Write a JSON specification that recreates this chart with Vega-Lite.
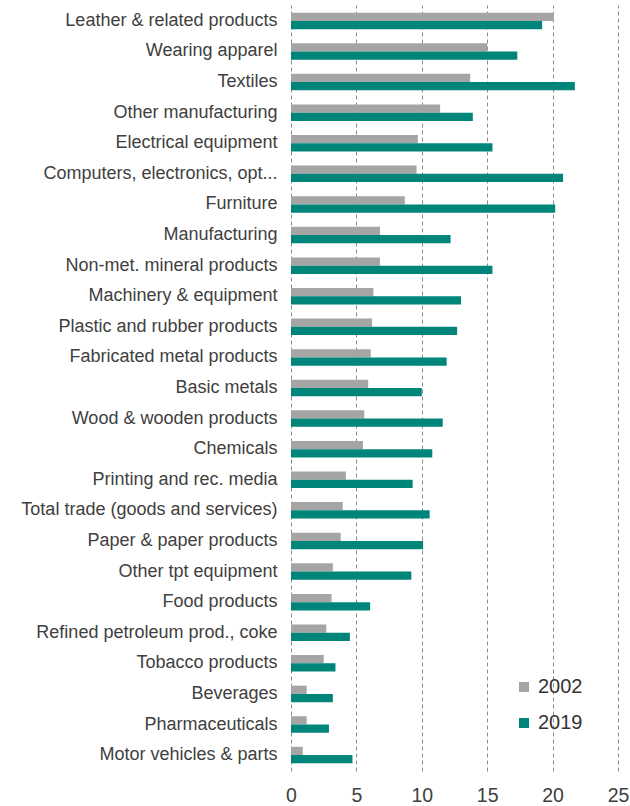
{
  "$schema": "https://vega.github.io/schema/vega-lite/v6.json",
  "autosize": "none",
  "width": 327,
  "height": 766,
  "padding": {"left": 291, "top": 5, "right": 12, "bottom": 35},
  "background": "white",
  "config": {
    "view": {"stroke": null},
    "font": "Liberation Sans",
    "axis": {"labelColor": "#404040"}
  },
  "data": {
    "values": [
      {"category": "Leather & related products", "year": "2002", "value": 20.1},
      {"category": "Leather & related products", "year": "2019", "value": 19.2},
      {"category": "Wearing apparel", "year": "2002", "value": 15.0},
      {"category": "Wearing apparel", "year": "2019", "value": 17.3},
      {"category": "Textiles", "year": "2002", "value": 13.7},
      {"category": "Textiles", "year": "2019", "value": 21.7},
      {"category": "Other manufacturing", "year": "2002", "value": 11.4},
      {"category": "Other manufacturing", "year": "2019", "value": 13.9},
      {"category": "Electrical equipment", "year": "2002", "value": 9.7},
      {"category": "Electrical equipment", "year": "2019", "value": 15.4},
      {"category": "Computers, electronics, opt...", "year": "2002", "value": 9.6},
      {"category": "Computers, electronics, opt...", "year": "2019", "value": 20.8},
      {"category": "Furniture", "year": "2002", "value": 8.7},
      {"category": "Furniture", "year": "2019", "value": 20.2},
      {"category": "Manufacturing", "year": "2002", "value": 6.8},
      {"category": "Manufacturing", "year": "2019", "value": 12.2},
      {"category": "Non-met. mineral products", "year": "2002", "value": 6.8},
      {"category": "Non-met. mineral products", "year": "2019", "value": 15.4},
      {"category": "Machinery & equipment", "year": "2002", "value": 6.3},
      {"category": "Machinery & equipment", "year": "2019", "value": 13.0},
      {"category": "Plastic and rubber products", "year": "2002", "value": 6.2},
      {"category": "Plastic and rubber products", "year": "2019", "value": 12.7},
      {"category": "Fabricated metal products", "year": "2002", "value": 6.1},
      {"category": "Fabricated metal products", "year": "2019", "value": 11.9},
      {"category": "Basic metals", "year": "2002", "value": 5.9},
      {"category": "Basic metals", "year": "2019", "value": 10.0},
      {"category": "Wood & wooden products", "year": "2002", "value": 5.6},
      {"category": "Wood & wooden products", "year": "2019", "value": 11.6},
      {"category": "Chemicals", "year": "2002", "value": 5.5},
      {"category": "Chemicals", "year": "2019", "value": 10.8},
      {"category": "Printing and rec. media", "year": "2002", "value": 4.2},
      {"category": "Printing and rec. media", "year": "2019", "value": 9.3},
      {"category": "Total trade (goods and services)", "year": "2002", "value": 3.95},
      {"category": "Total trade (goods and services)", "year": "2019", "value": 10.6},
      {"category": "Paper & paper products", "year": "2002", "value": 3.8},
      {"category": "Paper & paper products", "year": "2019", "value": 10.1},
      {"category": "Other tpt equipment", "year": "2002", "value": 3.2},
      {"category": "Other tpt equipment", "year": "2019", "value": 9.2},
      {"category": "Food products", "year": "2002", "value": 3.1},
      {"category": "Food products", "year": "2019", "value": 6.05},
      {"category": "Refined petroleum prod., coke", "year": "2002", "value": 2.7},
      {"category": "Refined petroleum prod., coke", "year": "2019", "value": 4.5},
      {"category": "Tobacco products", "year": "2002", "value": 2.5},
      {"category": "Tobacco products", "year": "2019", "value": 3.4},
      {"category": "Beverages", "year": "2002", "value": 1.2},
      {"category": "Beverages", "year": "2019", "value": 3.2},
      {"category": "Pharmaceuticals", "year": "2002", "value": 1.2},
      {"category": "Pharmaceuticals", "year": "2019", "value": 2.9},
      {"category": "Motor vehicles & parts", "year": "2002", "value": 0.9},
      {"category": "Motor vehicles & parts", "year": "2019", "value": 4.7}
    ]
  },
  "mark": {"type": "bar"},
  "encoding": {
    "y": {
      "field": "category",
      "type": "nominal",
      "sort": null,
      "scale": {"paddingInner": 0.46, "paddingOuter": 0.25},
      "axis": {
        "title": null,
        "ticks": false,
        "domain": false,
        "labelFontSize": 18,
        "labelPadding": 14,
        "labelLimit": 400
      }
    },
    "yOffset": {"field": "year", "type": "nominal", "scale": {"paddingInner": 0, "paddingOuter": 0}},
    "x": {
      "field": "value",
      "type": "quantitative",
      "scale": {"domain": [0, 25], "nice": false},
      "axis": {
        "title": null,
        "values": [0, 5, 10, 15, 20, 25],
        "grid": true,
        "gridDash": [4, 3],
        "gridColor": "#8c8c8c",
        "gridWidth": 1,
        "domain": false,
        "ticks": false,
        "labelFontSize": 19.5,
        "labelPadding": 15,
        "labelFlush": false
      }
    },
    "color": {
      "field": "year",
      "type": "nominal",
      "scale": {"domain": ["2002", "2019"], "range": ["#a5a5a5", "#00857b"]},
      "legend": {
        "title": null,
        "orient": "none",
        "legendX": 223,
        "legendY": 672,
        "symbolType": "square",
        "symbolSize": 100,
        "symbolStrokeWidth": 0,
        "labelFontSize": 20,
        "labelColor": "#333333",
        "labelOffset": 4,
        "rowPadding": 16
      }
    }
  }
}
